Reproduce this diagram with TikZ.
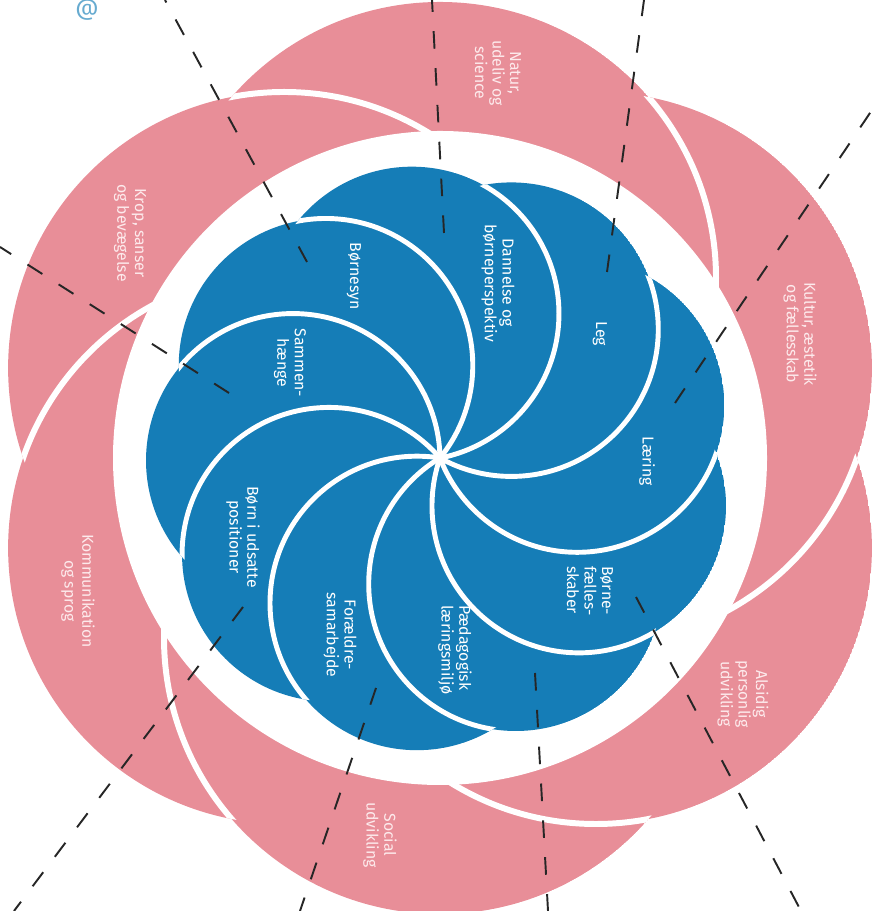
\documentclass[tikz,border=0pt]{standalone}
\usepackage{fontspec}
\setmainfont{Fira Sans}

\definecolor{blaa}{RGB}{21,125,183}
\definecolor{rosa}{RGB}{232,142,152}
\definecolor{rosahvid}{RGB}{253,234,236}

\begin{document}
\begin{tikzpicture}[x=0.02cm,y=0.02cm,
  blaatekst/.style={text=white,rotate=-90,align=center,font=\fontsize{9}{10}\selectfont},
  rosatekst/.style={text=rosahvid,rotate=-90,align=center,font=\fontsize{9}{10}\selectfont},
  stiplet/.style={line width=1.1pt,dash pattern=on 10pt off 11pt,black!85}]
\useasboundingbox (0,0) rectangle (874,911);

% rosa kronblade (seks store cirkler)
\begin{scope}[shift={(440,453)}]
  \foreach \a in {90,150,...,420}{
    \pgfmathsetmacro\b{\a+60}
    \begin{scope}
      \clip (\a:180) circle (276);
      \fill[rosa,even odd rule] (\a:180) circle (276) (\b:180) circle (276);
    \end{scope}
  }
  \foreach \a in {90,150,...,420}{
    \pgfmathsetmacro\b{\a+60}
    \begin{scope}
      \clip (\a:180) circle (276);
      \draw[white,line width=3.4pt] (\b:180) circle (276);
    \end{scope}
  }
  % hvid ring
  \fill[white] (0,0) circle (327);

  % blaa kronblade (ni cirkler gennem midten)
  \foreach \a in {61,101,...,381}{
    \pgfmathsetmacro\b{\a+40}
    \begin{scope}
      \clip (\a:147) circle (147);
      \fill[blaa,even odd rule] (\a:147) circle (147) (\b:147) circle (147);
    \end{scope}
  }
  \foreach \a in {61,101,...,381}{
    \pgfmathsetmacro\b{\a+40}
    \begin{scope}
      \clip (\a:147) circle (147);
      \draw[white,line width=2.8pt] (\b:147) circle (147);
    \end{scope}
  }
\end{scope}

% tekster i de rosa felter
\node[rosatekst] (natur) at (498,838) {Natur,\\udeliv og\\science};
\node[rosatekst] (kultur) at (800,577) {Kultur, æstetik\\og fællesskab};
\node[rosatekst] (alsidig) at (743,217) {Alsidig\\personlig\\udvikling};
\node[rosatekst] (social) at (380,76) {Social\\udvikling};
\node[rosatekst] (komm) at (78,320) {Kommunikation\\og sprog};
\node[rosatekst] (krop) at (130,678) {Krop, sanser\\og bevægelse};

% tekster i de blaa felter
\node[blaatekst] (dannelse) at (498,628) {Dannelse og\\børneperspektiv};
\node[blaatekst] (leg) at (600,577) {Leg};
\node[blaatekst] (laering) at (647,450) {Læring};
\node[blaatekst,align=left] (faelles) at (590,320) {Børne-\\fælles-\\skaber};
\node[blaatekst,align=left] (paed) at (455,261) {Pædagogisk\\læringsmiljø};
\node[blaatekst] (foraeldre) at (340,276) {Forældre-\\samarbejde};
\node[blaatekst] (udsatte) at (243,374) {Børn i udsatte\\positioner};
\node[blaatekst] (sammen) at (290,548) {Sammen-\\hænge};
\node[blaatekst] (boernesyn) at (354,635) {Børnesyn};

\node[text=blaa!65,font=\fontsize{13}{13}\selectfont] (logo) at (87,901) {@};

% stiplede linjer
\coordinate (b1) at (307,649); \coordinate (u1) at (165,911);
\coordinate (b2) at (229,518); \coordinate (u2) at (0,664);
\coordinate (b3) at (444,678); \coordinate (u3) at (432,911);
\coordinate (b4) at (607,639); \coordinate (u4) at (644,911);
\coordinate (b5) at (675,508); \coordinate (u5) at (874,804);
\coordinate (b6) at (636,314); \coordinate (u6) at (801,0);
\coordinate (b7) at (535,238); \coordinate (u7) at (548,0);
\coordinate (b8) at (376,223); \coordinate (u8) at (300,0);
\coordinate (b9) at (243,304); \coordinate (u9) at (14,0);
\foreach \i in {1,...,9}
  \draw[stiplet] (b\i) -- (u\i);
\end{tikzpicture}
\end{document}
